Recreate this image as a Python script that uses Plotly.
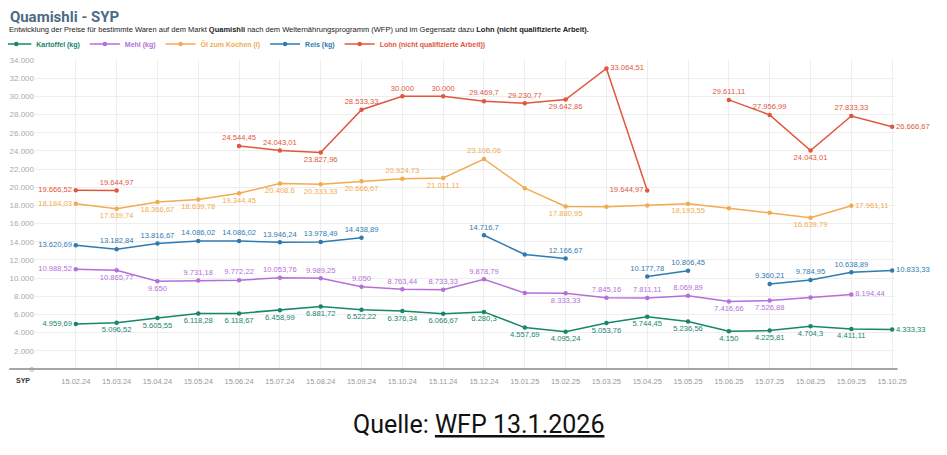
import plotly.graph_objects as go

# Daten (Preise in SYP)
daten = ["15.02.24", "15.03.24", "15.04.24", "15.05.24", "15.06.24", "15.07.24", "15.08.24",
         "15.09.24", "15.10.24", "15.11.24", "15.12.24", "15.01.25", "15.02.25", "15.03.25",
         "15.04.25", "15.05.25", "15.06.25", "15.07.25", "15.08.25", "15.09.25", "15.10.25"]

kartoffel = [4959.69, 5096.52, 5605.55, 6118.28, 6118.67, 6458.99, 6881.72, 6522.22, 6376.34,
             6066.67, 6280.3, 4557.69, 4095.24, 5053.76, 5744.45, 5236.56, 4150, 4225.81,
             4704.3, 4411.11, 4333.33]
mehl = [10988.52, 10865.77, 9650, 9731.18, 9772.22, 10053.76, 9989.25, 9050, 8763.44, 8733.33,
        9878.79, 8350, 8333.33, 7845.16, 7811.11, 8069.89, 7416.66, 7526.88, 7880, 8194.44, None]
oel = [18184.03, 17639.74, 18366.67, 18639.78, 19344.45, 20408.6, 20333.33, 20666.67, 20924.73,
       21011.11, 23106.06, 19900, 17880.95, 17850, 18000, 18193.55, 17700, 17200, 16639.79,
       17961.11, None]
reis = [13620.69, 13182.84, 13816.67, 14086.02, 14086.02, 13946.24, 13978.49, 14438.89, None,
        None, 14716.7, 12600, 12166.67, None, 10177.78, 10806.45, None, 9360.21, 9784.95,
        10638.89, 10833.33]
lohn = [19666.52, 19644.97, None, None, 24544.45, 24043.01, 23827.96, 28533.33, 30000, 30000,
        29469.7, 29230.77, 29642.86, 33064.51, 19644.97, None, 29611.11, 27956.99, 24043.01,
        27833.33, 26666.67]

# Beschriftungsposition pro Punkt (None = keine Beschriftung)
L, T, B, R = "middle left", "top center", "bottom center", "middle right"
pos_kartoffel = [L] + [B] * 19 + [R]
pos_mehl = [L, B, B, T, T, T, T, T, T, T, T, None, B, T, T, T, B, B, None, R, None]
pos_oel = [L, B, B, B, B, B, B, B, T, B, T, None, B, None, None, B, None, None, B, R, None]
pos_reis = [L, T, T, T, T, T, T, T, None, None, T, None, T, None, T, T, None, T, T, T, R]
pos_lohn = [L, T, None, None, T, T, B, T, T, T, T, T, B, R, L, None, T, T, B, T, R]

serien = [
    ("Kartoffel (kg)", kartoffel, pos_kartoffel, "#17866a"),
    ("Mehl (kg)", mehl, pos_mehl, "#b56fd8"),
    ("Öl zum Kochen (l)", oel, pos_oel, "#f2ab50"),
    ("Reis (kg)", reis, pos_reis, "#2f7bb1"),
    ("Lohn (nicht qualifizierte Arbeit))", lohn, pos_lohn, "#e0573c"),
]


def de(v):
    s = f"{v:,.2f}".rstrip("0").rstrip(".")
    return s.replace(",", "X").replace(".", ",").replace("X", ".")


fig = go.Figure()
for name, werte, pos, farbe in serien:
    texte = ["" if (v is None or p is None) else de(v) for v, p in zip(werte, pos)]
    fig.add_trace(go.Scatter(
        x=daten, y=werte,
        mode="lines+markers+text",
        name=f"<span style='color:{farbe}'><b>{name}</b></span>",
        line=dict(color=farbe, width=1.5),
        marker=dict(color=farbe, size=4.5),
        text=texte,
        textposition=[p if p else "top center" for p in pos],
        textfont=dict(color=farbe, size=7.6, family="Liberation Sans"),
        connectgaps=False,
        cliponaxis=False,
    ))

# die Seite hat 8px Rand, daher ist die Figur etwas kleiner
fig.update_layout(
    width=939, height=447,
    margin=dict(l=27, r=52, t=52, b=86, autoexpand=False),
    plot_bgcolor="white", paper_bgcolor="white",
    separators=",.",
    font=dict(family="Liberation Sans", size=8, color="#333"),
    title=dict(text="<b>Quamishli - SYP</b>", x=0.002, xanchor="left", xref="container",
               y=0.993, yanchor="top", yref="container", pad=dict(t=0, l=0),
               font=dict(family="Roboto", size=15, color="#4c6b84")),
    legend=dict(orientation="h", x=-0.045, xanchor="left", y=1.052, yanchor="middle",
                font=dict(size=7), itemwidth=30, tracegroupgap=0, bgcolor="rgba(0,0,0,0)"),
    xaxis=dict(range=[-1, 20.07], showgrid=True, gridcolor="#eeeeee", showline=False,
               zeroline=False, tickfont=dict(size=7.5, color="#999"), ticks="",
               ticklabelstandoff=6, automargin=False),
    yaxis=dict(range=[0, 34000], tickvals=list(range(0, 34001, 2000)), tickformat=",d",
               showgrid=True, gridcolor="#eeeeee", zeroline=False, showline=False,
               tickfont=dict(size=8, color="#aaa"), ticks="", automargin=False),
    shapes=[dict(type="line", xref="paper", yref="paper", x0=-0.03, x1=1.003, y0=0, y1=0,
                 line=dict(color="#888", width=1.5))],
    annotations=[
        dict(text="Entwicklung der Preise für bestimmte Waren auf dem Markt <b>Quamishli</b> "
                  "nach dem Welternährungsprogramm (WFP) und im Gegensatz dazu "
                  "<b>Lohn (nicht qualifizierte Arbeit).</b>",
             xref="paper", yref="paper", x=-0.032, y=1.1, xanchor="left", yanchor="middle",
             showarrow=False, font=dict(size=7.5, color="#222")),
        dict(text="<b>SYP</b>", xref="paper", yref="paper", x=-0.014, y=-0.036,
             xanchor="center", yanchor="middle", showarrow=False,
             font=dict(size=7, color="#333")),
        dict(text="Quelle: <span style='text-decoration:underline'>WFP 13.1.2026</span>",
             xref="paper", yref="paper", x=0.516, y=-0.178, xanchor="center",
             yanchor="middle", showarrow=False,
             font=dict(family="Roboto", size=25, color="#111")),
    ],
)

fig.write_html("out.html")
